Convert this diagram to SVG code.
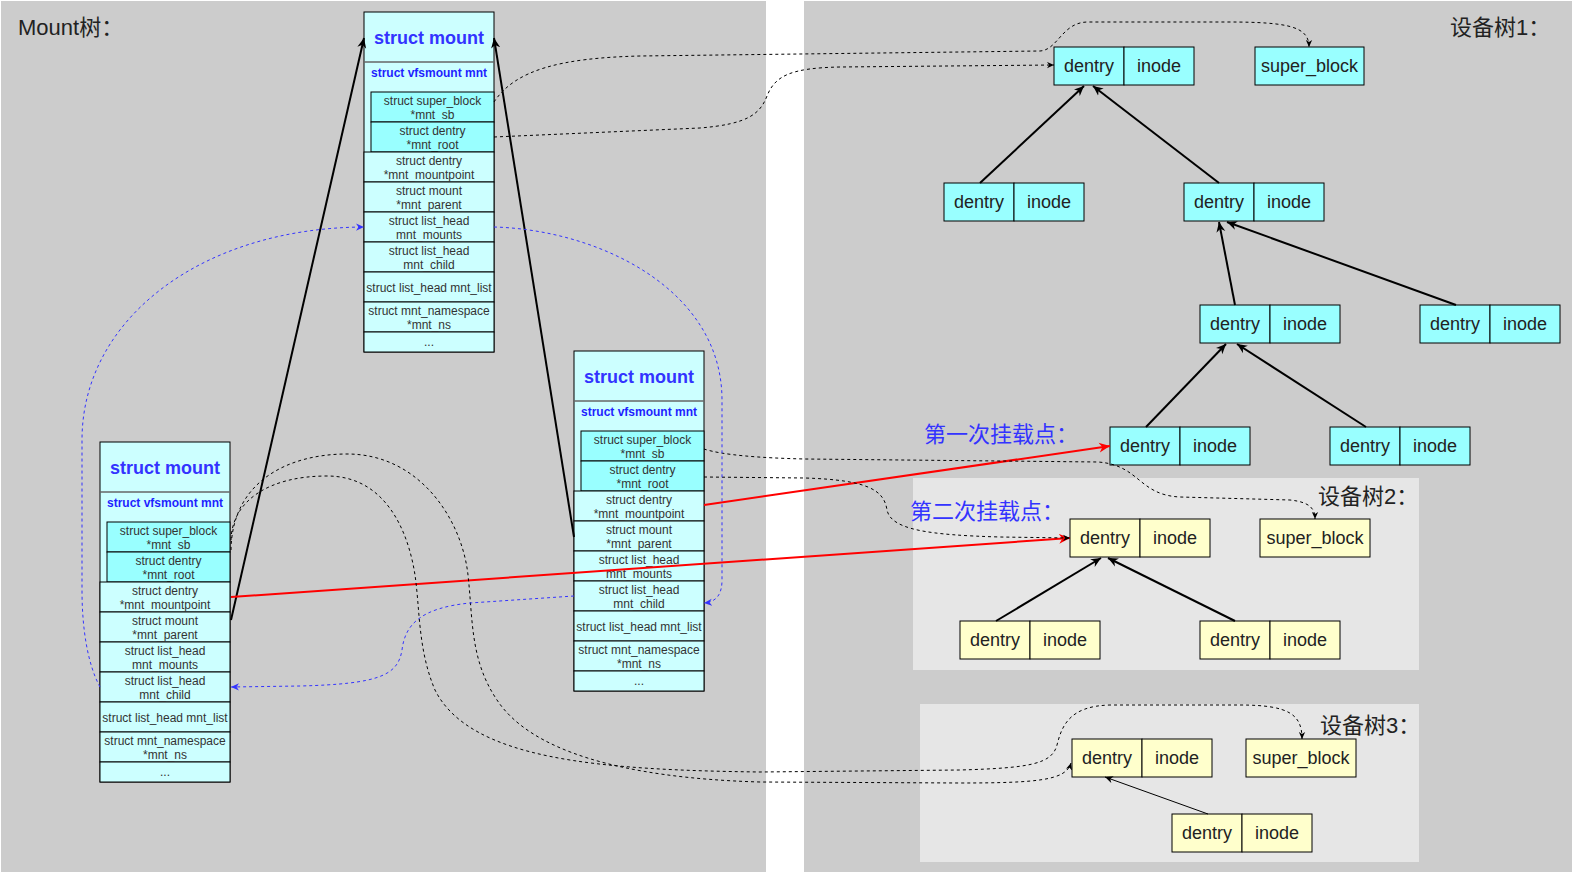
<svg xmlns="http://www.w3.org/2000/svg" width="1574" height="875" viewBox="0 0 1574 875">
<defs>
<style>
.bg{fill:#cccccc}
.panel{fill:#e6e6e6}
.outer{fill:#ccffff;stroke:#000;stroke-width:1}
.inner{fill:#99ffff;stroke:#000;stroke-width:1}
.row{fill:#ccffff;stroke:#000;stroke-width:1}
.sep{stroke:#666;stroke-width:1.5}
.title{font-family:"Liberation Sans",Arial,sans-serif;font-weight:bold;font-size:18px;fill:#3333ff;text-anchor:middle}
.sub{font-family:"Liberation Sans",Arial,sans-serif;font-weight:bold;font-size:12px;fill:#1f1fff;text-anchor:middle}
.cell{font-family:"Liberation Sans",Arial,sans-serif;font-size:12px;fill:#333;text-anchor:middle}
.n1{fill:#99ffff;stroke:#000;stroke-width:1}
.n2{fill:#ffffcc;stroke:#000;stroke-width:1}
.nt{font-family:"Liberation Sans",Arial,sans-serif;font-size:18px;fill:#222;text-anchor:middle}
.lbl{font-family:"Liberation Sans","Noto Sans CJK SC",sans-serif;font-size:22px;fill:#222}
.blue{fill:#3333ff}
.solid{stroke:#000;stroke-width:2;fill:none}
.thin{stroke:#000;stroke-width:1;fill:none}
.red{stroke:#ff0000;stroke-width:2;fill:none}
.dash{stroke:#000;stroke-width:1;stroke-dasharray:3 3;fill:none}
.bdash{stroke:#3333ff;stroke-width:1;stroke-dasharray:3 3;fill:none}
</style>
<marker id="mk-black" viewBox="0 0 10 10" refX="10" refY="5" markerWidth="10" markerHeight="10" markerUnits="userSpaceOnUse" orient="auto"><path d="M0,0.5 L10,5 L0,9.5 L3,5 z" fill="#000"/></marker>
<marker id="mk-thin" viewBox="0 0 10 10" refX="10" refY="5" markerWidth="8" markerHeight="8" markerUnits="userSpaceOnUse" orient="auto"><path d="M0,0.5 L10,5 L0,9.5 L3,5 z" fill="#000"/></marker>
<marker id="mk-red" viewBox="0 0 10 10" refX="10" refY="5" markerWidth="11" markerHeight="11" markerUnits="userSpaceOnUse" orient="auto"><path d="M0,0.5 L10,5 L0,9.5 L3,5 z" fill="#ff0000"/></marker>
<marker id="mk-dash" viewBox="0 0 10 10" refX="10" refY="5" markerWidth="7" markerHeight="7" markerUnits="userSpaceOnUse" orient="auto"><path d="M0,0.5 L10,5 L0,9.5 L3,5 z" fill="#000"/></marker>
<marker id="mk-blue" viewBox="0 0 10 10" refX="10" refY="5" markerWidth="8" markerHeight="8" markerUnits="userSpaceOnUse" orient="auto"><path d="M0,0.5 L10,5 L0,9.5 L3,5 z" fill="#3333ff"/></marker>
</defs>

<g id="backgrounds">
<rect class="bg" x="1" y="1" width="765" height="871"/>
<rect class="bg" x="804" y="1" width="768" height="871"/>
<rect class="panel" x="913" y="478" width="506" height="192"/>
<rect class="panel" x="920" y="704" width="499" height="158"/>
</g>

<g id="labels">
<text class="lbl" x="18" y="35">Mount树：</text>
<text class="lbl" x="1450" y="35">设备树1：</text>
<text class="lbl" x="1318" y="504">设备树2：</text>
<text class="lbl" x="1320" y="733">设备树3：</text>
<text class="lbl blue" x="924" y="442">第一次挂载点：</text>
<text class="lbl blue" x="910" y="519">第二次挂载点：</text>
</g>

<g id="mount-top" transform="translate(364,12)">
<rect class="outer" x="0" y="0" width="130" height="340"/>
<line class="sep" x1="0" y1="50" x2="130" y2="50"/>
<text class="title" x="65" y="32">struct mount</text>
<text class="sub" x="65" y="65">struct vfsmount mnt</text>
<rect class="inner" x="7" y="80" width="123" height="30"/>
<rect class="inner" x="7" y="110" width="123" height="30"/>
<text class="cell" x="68.5" y="93">struct super_block</text><text class="cell" x="68.5" y="107">*mnt_sb</text>
<text class="cell" x="68.5" y="123">struct dentry</text><text class="cell" x="68.5" y="137">*mnt_root</text>
<rect class="row" x="0" y="140" width="130" height="30"/>
<rect class="row" x="0" y="170" width="130" height="30"/>
<rect class="row" x="0" y="200" width="130" height="30"/>
<rect class="row" x="0" y="230" width="130" height="30"/>
<rect class="row" x="0" y="260" width="130" height="30"/>
<rect class="row" x="0" y="290" width="130" height="30"/>
<rect class="row" x="0" y="320" width="130" height="20"/>
<text class="cell" x="65" y="153">struct dentry</text><text class="cell" x="65" y="167">*mnt_mountpoint</text>
<text class="cell" x="65" y="183">struct mount</text><text class="cell" x="65" y="197">*mnt_parent</text>
<text class="cell" x="65" y="213">struct list_head</text><text class="cell" x="65" y="227">mnt_mounts</text>
<text class="cell" x="65" y="243">struct list_head</text><text class="cell" x="65" y="257">mnt_child</text>
<text class="cell" x="65" y="279.5">struct list_head mnt_list</text>
<text class="cell" x="65" y="303">struct mnt_namespace</text><text class="cell" x="65" y="317">*mnt_ns</text>
<text class="cell" x="65" y="334">...</text>
</g>

<g id="mount-mid" transform="translate(574,351)">
<rect class="outer" x="0" y="0" width="130" height="340"/>
<line class="sep" x1="0" y1="50" x2="130" y2="50"/>
<text class="title" x="65" y="32">struct mount</text>
<text class="sub" x="65" y="65">struct vfsmount mnt</text>
<rect class="inner" x="7" y="80" width="123" height="30"/>
<rect class="inner" x="7" y="110" width="123" height="30"/>
<text class="cell" x="68.5" y="93">struct super_block</text><text class="cell" x="68.5" y="107">*mnt_sb</text>
<text class="cell" x="68.5" y="123">struct dentry</text><text class="cell" x="68.5" y="137">*mnt_root</text>
<rect class="row" x="0" y="140" width="130" height="30"/>
<rect class="row" x="0" y="170" width="130" height="30"/>
<rect class="row" x="0" y="200" width="130" height="30"/>
<rect class="row" x="0" y="230" width="130" height="30"/>
<rect class="row" x="0" y="260" width="130" height="30"/>
<rect class="row" x="0" y="290" width="130" height="30"/>
<rect class="row" x="0" y="320" width="130" height="20"/>
<text class="cell" x="65" y="153">struct dentry</text><text class="cell" x="65" y="167">*mnt_mountpoint</text>
<text class="cell" x="65" y="183">struct mount</text><text class="cell" x="65" y="197">*mnt_parent</text>
<text class="cell" x="65" y="213">struct list_head</text><text class="cell" x="65" y="227">mnt_mounts</text>
<text class="cell" x="65" y="243">struct list_head</text><text class="cell" x="65" y="257">mnt_child</text>
<text class="cell" x="65" y="279.5">struct list_head mnt_list</text>
<text class="cell" x="65" y="303">struct mnt_namespace</text><text class="cell" x="65" y="317">*mnt_ns</text>
<text class="cell" x="65" y="334">...</text>
</g>

<g id="mount-left" transform="translate(100,442)">
<rect class="outer" x="0" y="0" width="130" height="340"/>
<line class="sep" x1="0" y1="50" x2="130" y2="50"/>
<text class="title" x="65" y="32">struct mount</text>
<text class="sub" x="65" y="65">struct vfsmount mnt</text>
<rect class="inner" x="7" y="80" width="123" height="30"/>
<rect class="inner" x="7" y="110" width="123" height="30"/>
<text class="cell" x="68.5" y="93">struct super_block</text><text class="cell" x="68.5" y="107">*mnt_sb</text>
<text class="cell" x="68.5" y="123">struct dentry</text><text class="cell" x="68.5" y="137">*mnt_root</text>
<rect class="row" x="0" y="140" width="130" height="30"/>
<rect class="row" x="0" y="170" width="130" height="30"/>
<rect class="row" x="0" y="200" width="130" height="30"/>
<rect class="row" x="0" y="230" width="130" height="30"/>
<rect class="row" x="0" y="260" width="130" height="30"/>
<rect class="row" x="0" y="290" width="130" height="30"/>
<rect class="row" x="0" y="320" width="130" height="20"/>
<text class="cell" x="65" y="153">struct dentry</text><text class="cell" x="65" y="167">*mnt_mountpoint</text>
<text class="cell" x="65" y="183">struct mount</text><text class="cell" x="65" y="197">*mnt_parent</text>
<text class="cell" x="65" y="213">struct list_head</text><text class="cell" x="65" y="227">mnt_mounts</text>
<text class="cell" x="65" y="243">struct list_head</text><text class="cell" x="65" y="257">mnt_child</text>
<text class="cell" x="65" y="279.5">struct list_head mnt_list</text>
<text class="cell" x="65" y="303">struct mnt_namespace</text><text class="cell" x="65" y="317">*mnt_ns</text>
<text class="cell" x="65" y="334">...</text>
</g>

<g id="t1-root"><rect class="n1" x="1054" y="47" width="70" height="38"/><rect class="n1" x="1124" y="47" width="70" height="38"/><text class="nt" x="1089" y="72">dentry</text><text class="nt" x="1159" y="72">inode</text></g>
<g id="t1-sb"><rect class="n1" x="1255" y="47" width="109" height="38"/><text class="nt" x="1309.5" y="72">super_block</text></g>
<g id="t1-a"><rect class="n1" x="944" y="183" width="70" height="38"/><rect class="n1" x="1014" y="183" width="70" height="38"/><text class="nt" x="979" y="208">dentry</text><text class="nt" x="1049" y="208">inode</text></g>
<g id="t1-b"><rect class="n1" x="1184" y="183" width="70" height="38"/><rect class="n1" x="1254" y="183" width="70" height="38"/><text class="nt" x="1219" y="208">dentry</text><text class="nt" x="1289" y="208">inode</text></g>
<g id="t1-c"><rect class="n1" x="1200" y="305" width="70" height="38"/><rect class="n1" x="1270" y="305" width="70" height="38"/><text class="nt" x="1235" y="330">dentry</text><text class="nt" x="1305" y="330">inode</text></g>
<g id="t1-d"><rect class="n1" x="1420" y="305" width="70" height="38"/><rect class="n1" x="1490" y="305" width="70" height="38"/><text class="nt" x="1455" y="330">dentry</text><text class="nt" x="1525" y="330">inode</text></g>
<g id="t1-e"><rect class="n1" x="1110" y="427" width="70" height="38"/><rect class="n1" x="1180" y="427" width="70" height="38"/><text class="nt" x="1145" y="452">dentry</text><text class="nt" x="1215" y="452">inode</text></g>
<g id="t1-f"><rect class="n1" x="1330" y="427" width="70" height="38"/><rect class="n1" x="1400" y="427" width="70" height="38"/><text class="nt" x="1365" y="452">dentry</text><text class="nt" x="1435" y="452">inode</text></g>

<g id="t2-root"><rect class="n2" x="1070" y="519" width="70" height="38"/><rect class="n2" x="1140" y="519" width="70" height="38"/><text class="nt" x="1105" y="544">dentry</text><text class="nt" x="1175" y="544">inode</text></g>
<g id="t2-sb"><rect class="n2" x="1260" y="519" width="110" height="38"/><text class="nt" x="1315" y="544">super_block</text></g>
<g id="t2-a"><rect class="n2" x="960" y="621" width="70" height="38"/><rect class="n2" x="1030" y="621" width="70" height="38"/><text class="nt" x="995" y="646">dentry</text><text class="nt" x="1065" y="646">inode</text></g>
<g id="t2-b"><rect class="n2" x="1200" y="621" width="70" height="38"/><rect class="n2" x="1270" y="621" width="70" height="38"/><text class="nt" x="1235" y="646">dentry</text><text class="nt" x="1305" y="646">inode</text></g>

<g id="t3-root"><rect class="n2" x="1072" y="739" width="70" height="38"/><rect class="n2" x="1142" y="739" width="70" height="38"/><text class="nt" x="1107" y="764">dentry</text><text class="nt" x="1177" y="764">inode</text></g>
<g id="t3-sb"><rect class="n2" x="1246" y="739" width="110" height="38"/><text class="nt" x="1301" y="764">super_block</text></g>
<g id="t3-a"><rect class="n2" x="1172" y="814" width="70" height="38"/><rect class="n2" x="1242" y="814" width="70" height="38"/><text class="nt" x="1207" y="839">dentry</text><text class="nt" x="1277" y="839">inode</text></g>

<g id="connectors">
<path class="solid" marker-end="url(#mk-black)" d="M980,183 L1084,86"/>
<path class="solid" marker-end="url(#mk-black)" d="M1219,183 L1093,86"/>
<path class="solid" marker-end="url(#mk-black)" d="M1235,305 L1219,222"/>
<path class="solid" marker-end="url(#mk-black)" d="M1456,305 L1227,222"/>
<path class="solid" marker-end="url(#mk-black)" d="M1146,427 L1226,344"/>
<path class="solid" marker-end="url(#mk-black)" d="M1366,427 L1237,344"/>
<path class="solid" marker-end="url(#mk-black)" d="M996,621 L1101,558"/>
<path class="solid" marker-end="url(#mk-black)" d="M1235,621 L1108,558"/>
<path class="thin" marker-end="url(#mk-thin)" d="M1208,814 L1105,777"/>

<path class="solid" marker-end="url(#mk-black)" d="M231,620 L364,38"/>
<path class="solid" marker-end="url(#mk-black)" d="M574,537 L494,38"/>

<path class="red" marker-end="url(#mk-red)" d="M704,505 L1110,446"/>
<path class="red" marker-end="url(#mk-red)" d="M231,597 L1070,538"/>

<path class="dash" marker-end="url(#mk-dash)" d="M494,102 C515,70 560,58 640,56 L1040,51 C1058,50 1062,22 1088,22 L1228,22 C1290,22 1309,27 1309,47"/>
<path class="dash" marker-end="url(#mk-dash)" d="M494,137 L700,128 C748,124 760,114 767,96 C775,76 790,68 840,67 L1054,65"/>
<path class="dash" marker-end="url(#mk-dash)" d="M704,449 C722,455 760,458 805,459 L1098,462 C1140,465 1138,495 1180,497 L1290,500 C1309,502 1315,508 1315,519"/>
<path class="dash" marker-end="url(#mk-dash)" d="M704,477 L805,478 C868,480 884,490 887,510 C891,530 930,535 1000,537 L1070,538"/>
<path class="dash" marker-end="url(#mk-dash)" d="M231,540 C232,500 270,476 327,476 C385,476 408,530 415,575 C420,610 418,650 435,690 C470,760 600,770 760,772 L960,770 C1030,768 1052,764 1057,745 C1062,725 1070,706 1110,705 L1240,705 C1290,705 1302,715 1302,739"/>
<path class="dash" marker-end="url(#mk-dash)" d="M231,550 C232,480 290,454 347,454 C420,454 462,520 468,575 C473,620 470,660 497,700 C530,750 620,778 760,782 L960,783 C1040,783 1066,780 1071,763"/>

<path class="bdash" marker-end="url(#mk-blue)" d="M100,687 C88,665 82,630 82,590 L82,440 C82,320 200,228 364,227"/>
<path class="bdash" marker-end="url(#mk-blue)" d="M494,227 C600,230 722,290 722,400 L722,580 C722,595 716,602 704,603"/>
<path class="bdash" marker-end="url(#mk-blue)" d="M574,596 L470,603 C420,608 405,625 402,650 C398,675 380,684 300,686 L231,687"/>
</g>
</svg>
